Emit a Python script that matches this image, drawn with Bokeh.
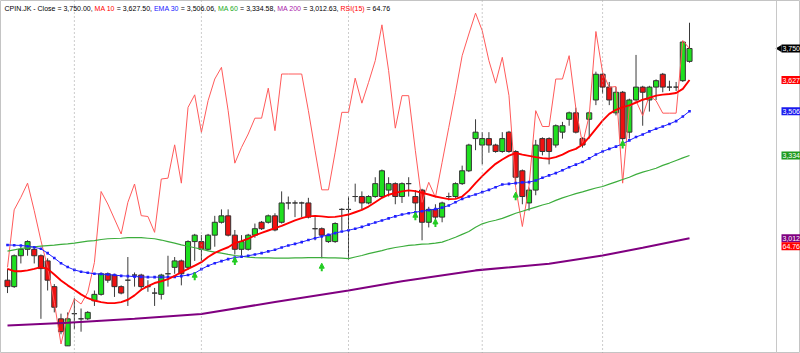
from bokeh.plotting import figure
from bokeh.models import Range1d, ColumnDataSource, Span, Label, Arrow, NormalHead
from bokeh.embed import file_html
from bokeh.resources import INLINE

# ---------------- data ----------------
opens = [2850, 2825, 2945, 2970, 2970, 2945, 2925, 2825, 2700, 2595,
         2720, 2700, 2700, 2770, 2795, 2875, 2870, 2825, 2850, 2870,
         2870, 2825, 2800, 2795, 2875, 2900, 2925, 2900, 3000, 3000,
         2970, 3025, 3075, 3100, 3025, 2970, 2970, 3025, 3075, 3075,
         3100, 3075, 3150, 3150, 3150, 3150, 3050, 3050, 3000, 3000,
         3125, 3125, 3175, 3175, 3150, 3175, 3175, 3200, 3225, 3175,
         3225, 3175, 3200, 3075, 3125, 3095, 3175, 3175, 3225, 3275,
         3400, 3375, 3400, 3375, 3350, 3425, 3350, 3275, 3150, 3200,
         3400, 3400, 3375, 3425, 3475, 3500, 3400, 3475, 3550, 3650,
         3600, 3500, 3580, 3425, 3550, 3600, 3550, 3600, 3650, 3600,
         3600, 3625, 3700]
highs = [2895, 2950, 2980, 3005, 2980, 2950, 2935, 2835, 2720, 2725,
         2780, 2740, 2730, 2810, 2880, 2880, 2875, 2830, 2940, 2880,
         2875, 2850, 2820, 2875, 2945, 2940, 2930, 3005, 3030, 3025,
         3030, 3100, 3125, 3125, 3045, 3025, 3030, 3070, 3080, 3105,
         3110, 3195, 3175, 3160, 3155, 3170, 3095, 3055, 3030, 3075,
         3130, 3175, 3225, 3195, 3180, 3250, 3280, 3250, 3230, 3230,
         3250, 3200, 3205, 3135, 3145, 3155, 3190, 3230, 3295, 3380,
         3475, 3425, 3425, 3380, 3425, 3430, 3355, 3280, 3210, 3395,
         3405, 3405, 3455, 3465, 3505, 3520, 3405, 3505, 3660, 3655,
         3620, 3600, 3585, 3555, 3725, 3605, 3605, 3630, 3655, 3625,
         3620, 3780, 3850]
lows = [2800, 2820, 2915, 2945, 2915, 2700, 2810, 2725, 2640, 2595,
        2660, 2650, 2695, 2750, 2790, 2840, 2785, 2795, 2750, 2825,
        2810, 2805, 2750, 2775, 2825, 2875, 2830, 2890, 2925, 2925,
        2965, 2980, 3070, 3020, 2950, 2945, 2965, 3015, 3045, 3070,
        3040, 3070, 3125, 3095, 3095, 3090, 3005, 2935, 2995, 2995,
        3045, 2930, 3155, 3125, 3145, 3170, 3170, 3175, 3145, 3150,
        3175, 3120, 3005, 3055, 3070, 3075, 3160, 3170, 3220, 3270,
        3355, 3300, 3345, 3345, 3345, 3345, 3225, 3145, 3120, 3180,
        3335, 3300, 3365, 3400, 3450, 3420, 3365, 3400, 3530, 3575,
        3530, 3490, 3385, 3400, 3545, 3450, 3505, 3550, 3580, 3585,
        3585, 3620, 3695]
closes = [2825, 2945, 2970, 3000, 2945, 2895, 2850, 2745, 2650, 2700,
          2720, 2700, 2725, 2795, 2875, 2850, 2825, 2800, 2850, 2870,
          2825, 2825, 2800, 2870, 2875, 2925, 2875, 3000, 3025, 2970,
          3025, 3075, 3100, 3025, 2970, 3000, 3025, 3050, 3050, 3100,
          3045, 3150, 3150, 3150, 3150, 3095, 3050, 3025, 3025, 3070,
          3125, 3125, 3175, 3150, 3175, 3225, 3275, 3225, 3175, 3225,
          3225, 3150, 3075, 3125, 3095, 3150, 3175, 3225, 3275, 3375,
          3425, 3400, 3375, 3350, 3400, 3350, 3250, 3175, 3200, 3375,
          3350, 3350, 3450, 3450, 3500, 3425, 3375, 3500, 3650, 3600,
          3550, 3580, 3400, 3550, 3600, 3580, 3600, 3625, 3600, 3600,
          3600, 3775, 3750]
ma10 = [2894, 2885, 2885, 2888, 2894, 2901, 2894, 2872, 2849, 2830,
        2813, 2795, 2780, 2771, 2765, 2761, 2761, 2765, 2774, 2791,
        2813, 2827, 2839, 2846, 2854, 2867, 2881, 2894, 2907, 2920,
        2940, 2956, 2968, 2978, 2994, 3002, 3011, 3024, 3034, 3043,
        3052, 3061, 3072, 3082, 3091, 3098, 3100, 3098, 3095, 3096,
        3100, 3105, 3114, 3123, 3136, 3153, 3170, 3182, 3189, 3195,
        3199, 3196, 3189, 3183, 3175, 3170, 3165, 3166, 3175, 3198,
        3227, 3254, 3279, 3302, 3319, 3334, 3344, 3338, 3333, 3328,
        3324, 3322, 3328, 3338, 3351, 3360, 3377, 3406, 3438, 3470,
        3496, 3512, 3522, 3529, 3540, 3551, 3558, 3567, 3571, 3573,
        3577, 3593, 3627.50]
ema30 = [2987, 2986, 2985, 2982, 2978, 2972, 2955, 2936, 2916, 2901,
         2890, 2883, 2879, 2875, 2874, 2872, 2870, 2867, 2866, 2864,
         2863, 2862, 2862, 2862, 2862, 2863, 2866, 2870, 2877, 2893,
         2906, 2916, 2924, 2932, 2938, 2941, 2945, 2950, 2955, 2962,
         2968, 2977, 2985, 2991, 2998, 3006, 3013, 3020, 3026, 3033,
         3039, 3044, 3050, 3057, 3066, 3074, 3082, 3090, 3098, 3105,
         3110, 3114, 3118, 3122, 3126, 3132, 3140, 3153, 3166, 3175,
         3183, 3192, 3201, 3211, 3222, 3224, 3227, 3230, 3231, 3237,
         3248, 3257, 3266, 3277, 3289, 3299, 3309, 3323, 3338, 3350,
         3360, 3369, 3380, 3393, 3406, 3416, 3428, 3438, 3447, 3457,
         3468, 3486, 3506.06]
ma60 = [2963, 2968, 2973, 2977, 2980, 2982, 2984, 2986, 2989, 2991,
        2994, 2998, 3002, 3004, 3008, 3011, 3012, 3013, 3015, 3015,
        3015, 3013, 3011, 3006, 3000, 2994, 2987, 2982, 2976, 2971,
        2964, 2959, 2955, 2950, 2946, 2943, 2940, 2938, 2937, 2937,
        2936, 2936, 2936, 2937, 2937, 2938, 2938, 2938, 2937, 2937,
        2936, 2934, 2940, 2946, 2953, 2959, 2965, 2972, 2977, 2981,
        2985, 2987, 2990, 2991, 2994, 2998, 3007, 3017, 3028, 3039,
        3056, 3069, 3077, 3083, 3090, 3100, 3110, 3118, 3126, 3134,
        3142, 3149, 3160, 3170, 3178, 3186, 3193, 3201, 3208, 3214,
        3223, 3232, 3241, 3250, 3261, 3270, 3277, 3285, 3296, 3305,
        3315, 3325, 3334.58]
ma200_bar = [0, 9, 19, 29, 40, 51, 59, 70, 81, 89, 95, 102]
ma200 = [2674, 2685, 2700, 2719, 2765, 2810, 2846, 2888, 2914, 2946, 2976, 3012.63]
rsi15 = [38.5, 45.4, 46.9, 48.6, 45.3, 41.7, 38.5, 34.3, 29.3, 32.7,
         34.7, 34.1, 35.5, 39.1, 47.6, 46.1, 44.3, 42.5, 46.3, 48.5,
         44.7, 44.6, 42.7, 49.1, 49.2, 53.2, 48.6, 57.7, 59.2, 54.7,
         58.5, 61.1, 62.5, 57.3, 51.0, 52.9, 54.5, 56.4, 56.4, 60.0,
         54.9, 61.7, 61.7, 61.7, 61.7, 57.3, 52.5, 47.8, 47.8, 52.3,
         57.1, 57.1, 61.2, 58.2, 60.7, 63.3, 67.6, 62.1, 55.2, 59.1,
         59.1, 52.5, 46.3, 48.7, 46.9, 51.1, 55.3, 59.5, 63.9, 66.5,
         69.0, 66.9, 63.3, 60.6, 63.7, 59.1, 48.1, 43.4, 48.3, 57.3,
         55.4, 55.4, 61.1, 61.1, 63.9, 57.6, 53.3, 56.7, 66.8, 61.9,
         60.1, 60.2, 48.6, 57.7, 58.5, 56.7, 59.1, 58.5, 57.0, 57.0,
         57.0, 65.7, 64.76]
signal_bar = [28, 34, 47, 61, 64, 76, 92]
signal_price = [2881, 2940, 2916, 3114, 3088, 3192, 3393]
month_start_bar = [10, 29, 51, 71, 89]
symbol = "CPIN.JK"

# ---------------- layout constants ----------------
W, H = 800, 353
X0, X1 = -1.047, 118.6
Y0, Y1 = 2565.3, 3936.4
R0, R1 = 28.16, 70.52
FONT = "Liberation Sans"


def dx(pix):
    return X0 + pix * (X1 - X0) / W


def dy(pix_top):
    return Y1 - pix_top * (Y1 - Y0) / H


def ypix(price):
    return (Y1 - price) / (Y1 - Y0) * H


p = figure(width=W, height=H, x_range=Range1d(X0, X1), y_range=Range1d(Y0, Y1),
           output_backend="svg", toolbar_location=None,
           x_axis_location=None, y_axis_location=None, min_border=0,
           background_fill_color="white", border_fill_color="white",
           outline_line_color="#c4c4c4")
p.extra_y_ranges = {"rsi": Range1d(R0, R1)}
p.xgrid.visible = False
p.ygrid.visible = False

# month separators
for b in month_start_bar:
    p.add_layout(Span(location=b, dimension="height", line_color="#9a9a9a",
                      line_dash="1 3", line_width=1))

# right scale separator
p.add_layout(Span(location=dx(776), dimension="height", line_color="#c8c8c8", line_width=1))

# ---------------- candles ----------------
idx = list(range(len(closes)))
up_col, dn_col = "#1fe01f", "#ee1111"
src = ColumnDataSource(dict(
    x=idx, o=opens, h=highs, l=lows, c=closes,
    top=[max(o, c) for o, c in zip(opens, closes)],
    bot=[min(o, c) for o, c in zip(opens, closes)],
    col=[up_col if c >= o else dn_col for o, c in zip(opens, closes)],
))
p.segment(x0="x", y0="h", x1="x", y1="l", source=src, line_color="#3a3a3a", line_width=1)
p.vbar(x="x", width=0.76, top="top", bottom="bot", source=src,
       fill_color="col", line_color="#333333", line_width=1)

# ---------------- indicator lines ----------------
p.line(idx, rsi15, y_range_name="rsi", line_color="#ff5a5a", line_width=1)
p.line(ma200_bar, ma200, line_color="#800080", line_width=2.1)
p.line(idx, ma60, line_color="#3cad3c", line_width=1.2)
p.line(idx, ema30, line_color="#1f1fff", line_width=1)
p.scatter(idx, ema30, marker="square", size=2.6, fill_color="#1f1fff", line_color=None)
p.line(idx, ma10, line_color="#ff0000", line_width=1.9)

# ---------------- buy arrows ----------------
ppx = (Y1 - Y0) / H
asrc = ColumnDataSource(dict(x=signal_bar, y1=signal_price,
                             y0=[v - 8 * ppx for v in signal_price]))
p.add_layout(Arrow(end=NormalHead(size=5, fill_color="#22cc22", line_color="#22cc22", line_width=1),
                   x_start="x", y_start="y0", x_end="x", y_end="y1", source=asrc,
                   line_color="#22cc22", line_width=2))

# ---------------- right-hand value tags ----------------
tags = [(closes[-1], "#000000"), (ma10[-1], "#ff0000"), (ema30[-1], "#1a1aee"),
        (ma60[-1], "#1f9a1f"), (ma200[-1], "#800080")]
for v, col in tags:
    p.rect(x=dx(797), y=v, width=32, height=8, width_units="screen", height_units="screen",
           fill_color=col, line_color=None)
    p.add_layout(Label(x=782, y=v, x_units="screen", y_units="data", text=f"{int(v):,}",
                       text_color="white", text_font=FONT, text_font_size="7px",
                       text_baseline="middle", text_align="left"))
# pointer on the close tag
p.scatter(x=[dx(779)], y=[closes[-1]], marker="triangle", angle=1.5708, size=7,
          fill_color="#000000", line_color=None)
# RSI tag stacked under the MA 200 tag
rsi_y = dy(ypix(ma200[-1]) + 8)
p.rect(x=dx(797), y=rsi_y, width=32, height=8, width_units="screen", height_units="screen",
       fill_color="#ff0000", line_color=None)
p.add_layout(Label(x=782, y=rsi_y, x_units="screen", y_units="data", text=f"{rsi15[-1]:.2f}",
                   text_color="white", text_font=FONT, text_font_size="7px",
                   text_baseline="middle", text_align="left"))

# ---------------- title line ----------------
AW = {" ": 278, ",": 278, ".": 278, "-": 333, "=": 584, "(": 333, ")": 333,
      "C": 722, "P": 667, "I": 278, "N": 722, "J": 500, "K": 667, "l": 222, "o": 556,
      "s": 500, "e": 556, "M": 833, "A": 667, "E": 667, "R": 722, "S": 667}
FS = 7.0


def tw(s):
    return sum(AW.get(ch, 556) for ch in s) * FS / 1000.0


segments = [
    (f"{symbol} - Close = {closes[-1]:,.2f}, ", "#000000"),
    ("MA 10", "#ff0000"), (f" = {ma10[-1]:,.2f}, ", "#000000"),
    ("EMA 30", "#2020ff"), (f" = {ema30[-1]:,.2f}, ", "#000000"),
    ("MA 60", "#22aa22"), (f" = {ma60[-1]:,.2f}, ", "#000000"),
    ("MA 200", "#aa22aa"), (f" = {ma200[-1]:,.2f}, ", "#000000"),
    ("RSI(15)", "#ff0000"), (f" = {rsi15[-1]:.2f}", "#000000"),
]
xpos = 4.0
for s, col in segments:
    lead = len(s) - len(s.lstrip(" "))
    txt = s.strip(" ")
    p.add_layout(Label(x=xpos + tw(" " * lead), y=H - 8, x_units="screen", y_units="screen",
                       text=txt, text_color=col, text_font=FONT, text_font_size="7px",
                       text_baseline="middle", text_align="left"))
    xpos += tw(s)

open("out.html", "w").write(file_html(p, INLINE))
